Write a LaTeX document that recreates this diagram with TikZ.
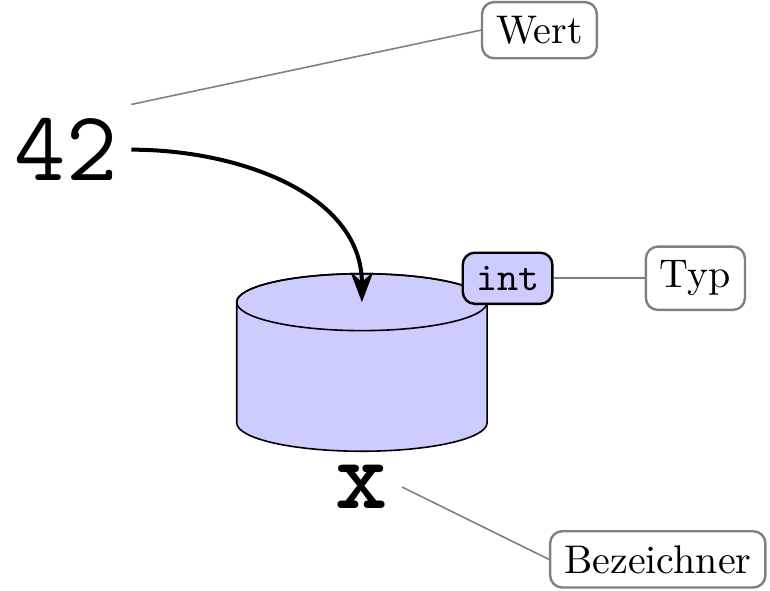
\documentclass[tikz,border=0pt]{standalone}
\usepackage{tikz}
\usetikzlibrary{arrows.meta}
\usetikzlibrary{calc}
\usetikzlibrary{positioning}
\usepackage{xcolor}

\begin{document}
\begin{tikzpicture}[ x=1cm, y=1cm, >=Stealth, tag/.style={draw=gray, semithick,
      rounded corners=3pt, fill=white, inner sep=3.5pt}, hint/.style={gray},
      varbox/.style={draw, semithick, fill=blue!20, rounded corners=3pt,
      font=\ttfamily} ]

      \useasboundingbox (0,0) rectangle (6.766,5.185);

      % Value
      \node[font=\Huge\ttfamily] (value) at (0.58,3.87) {42};

      % Storage cell
      \coordinate (top) at (3.18,2.53); \coordinate (bottom) at (3.18,1.47);
      \filldraw[fill=blue!20] ($(top)+(-1.1,0)$) -- ($(bottom)+(-1.1,0)$)
      arc[start angle=180, end angle=360, x radius=1.1cm, y radius=0.25cm]
      -- ($(top)+(1.1,0)$) arc[start angle=0, end angle=180, x radius=1.1cm,
      y radius=0.25cm] -- cycle;
      \draw (top) ellipse[x radius=1.1cm, y radius=0.25cm];

      % Type and name
      \node[varbox] (type) at (4.46,2.74) {int};
      \node[below, font=\Huge\ttfamily\bfseries] (name) at ($(bottom)+(0,-0.25)$) {x};

      % Assignment
      \draw[->, line width=1pt] (value.east) to[out=0, in=90] (top);

      % Captions
      \node[tag] (wert) at (4.74,4.92) {Wert};
      \node[tag, right=0.8cm of type] (typ) {Typ};
      \node[tag] (bez) at (5.78,0.27) {Bezeichner};

      \draw[hint] (value.north east) -- (wert.west);
      \draw[hint] (type.east) -- (typ.west);
      \draw[hint] (name.east) -- (bez.west);
    \end{tikzpicture}
\end{document}
